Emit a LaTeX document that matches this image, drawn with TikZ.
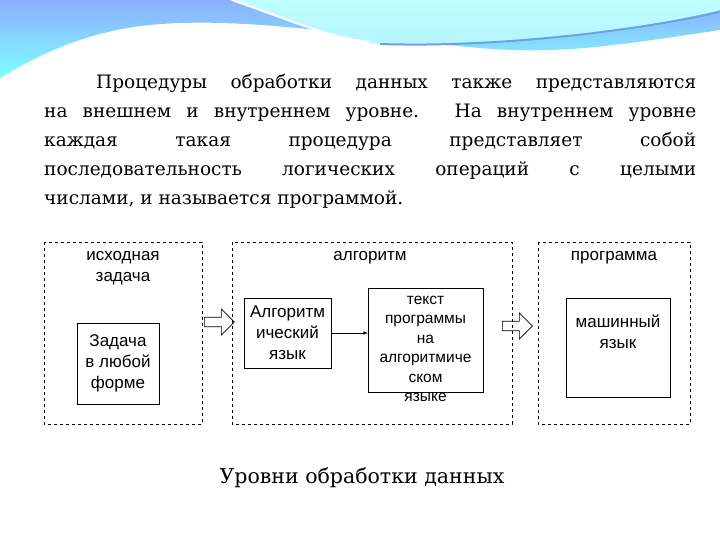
\documentclass[tikz,border=0pt]{standalone}
\usepackage{fontspec}
\setmainfont{DejaVu Serif}
\setsansfont{Liberation Sans}
\usetikzlibrary{shapes.arrows}
\begin{document}
\begin{tikzpicture}[x=1pt,y=-1pt,
  dbox/.style={draw,dashed,line width=0.6pt},
  sbox/.style={draw,line width=0.8pt,fill=white},
  lab/.style={font=\sffamily\fontsize{17}{21}\selectfont,align=center},
  hollow/.style={single arrow,draw,line width=0.6pt,minimum height=30pt,minimum width=26pt,single arrow head extend=4pt,inner sep=2pt}]
\useasboundingbox (0,0) rectangle (720,540);
\fill[white] (0,0) rectangle (720,540);
% top decoration
\shade[top color=cyan!30!blue!45,bottom color=cyan!50] (0,0) -- (720,0) -- (720,30) .. controls (620,45) and (560,55) .. (480,48) .. controls (380,40) and (250,15) .. (150,25) .. controls (80,32) and (30,60) .. (0,78) -- cycle;
\shade[top color=cyan!25,bottom color=blue!15!cyan!30] (230,0) .. controls (290,20) and (340,40) .. (380,44) .. controls (500,48) and (640,30) .. (720,10) -- (720,0) -- cycle;
\draw[white,line width=2pt] (232,0) .. controls (290,20) and (330,38) .. (370,42);
\draw[cyan!60!blue!60,line width=2pt] (380,44) .. controls (500,48) and (640,30) .. (720,12);
% paragraph
\node[anchor=north west,inner sep=0pt,text width=652pt,align=justify,font=\fontsize{18.5}{29}\selectfont] (para) at (44,74)
 {\parindent=52pt\indent Процедуры обработки данных также представляются\linebreak на внешнем и внутреннем уровне. На внутреннем уровне\linebreak каждая такая процедура представляет собой\linebreak последовательность логических операций с целыми\linebreak числами, и называется программой.};
% dashed boxes
\draw[dbox] (44,242) rectangle (202,424);
\draw[dbox] (232,242) rectangle (512,424);
\draw[dbox] (538,242) rectangle (690,424);
\node[lab] (t1) at (123,268) {исходная\\задача};
\node[lab] (t2) at (370,258) {алгоритм};
\node[lab] (t3) at (614,258) {программа};
\node[sbox,minimum width=82pt,minimum height=81pt,lab] (task) at (118,363.5) {Задача\\в любой\\форме};
\node[sbox,minimum width=87pt,minimum height=70pt,lab] (alg) at (287.5,333) {Алгоритм\\ический\\язык};
\draw[sbox] (368,288) rectangle (483,392);
\node[lab,font=\sffamily\fontsize{15.5}{19.5}\selectfont] (txt) at (425.5,349) {текст\\программы\\на\\алгоритмиче\\ском\\языке};
\coordinate (txtw) at (368,333);
\draw[-latex,line width=0.6pt] (alg.east) -- (txtw);
\node[sbox,minimum width=104pt,minimum height=99pt] (mach) at (618,347.5) {};
\node[lab] (machl) at (618,332) {машинный\\язык};
\node[hollow] (a1) at (217,322) {};
\node[hollow] (a2) at (515,326) {};
\node[font=\fontsize{20.5}{24}\selectfont] (cap) at (362,478) {Уровни обработки данных};
\end{tikzpicture}
\end{document}
